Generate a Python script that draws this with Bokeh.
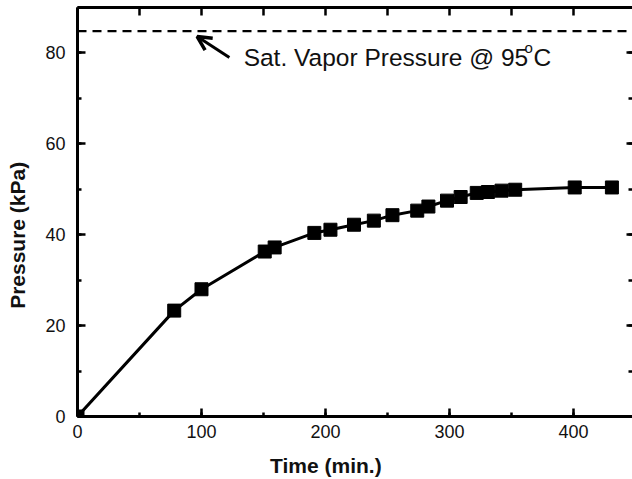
from bokeh.plotting import figure
from bokeh.models import (Range1d, LinearAxis, SingleIntervalTicker, Span, Arrow,
                          OpenHead, Label)
from bokeh.embed import file_html
from bokeh.resources import INLINE

# ---- data ----
time_min = [0, 78, 100, 151, 159, 191, 204, 223, 239, 254, 274, 283,
            298, 309, 322, 331, 342, 353, 401, 431]
pressure_kpa = [0, 23.3, 28.0, 36.3, 37.2, 40.4, 41.1, 42.2, 43.1, 44.3, 45.3, 46.2,
                47.5, 48.3, 49.2, 49.4, 49.7, 49.9, 50.4, 50.4]
sat_vapor_pressure = 84.8
annotation_text = "Sat. Vapor Pressure @ 95"
x_label = "Time (min.)"
y_label = "Pressure (kPa)"

FONT = "Liberation Sans"
INK = "#111111"
NBSP = "\u00a0"

p = figure(width=632, height=479, output_backend="svg", toolbar_location=None,
           x_range=Range1d(0, 447.6), y_range=Range1d(0, 90),
           min_border_left=77, min_border_right=0, min_border_top=7,
           min_border_bottom=63, x_axis_type=None, y_axis_type=None)
p.outline_line_color = None
p.xgrid.visible = False
p.ygrid.visible = False
p.background_fill_color = "white"
p.border_fill_color = "white"


def style_axis(ax, labels=True, major_in=8, minor_in=4, line=True):
    ax.axis_line_width = 3
    ax.axis_line_color = "black" if line else None
    ax.major_tick_in = major_in
    ax.major_tick_out = 0
    ax.minor_tick_in = minor_in
    ax.minor_tick_out = 0
    ax.major_tick_line_width = 2.5
    ax.minor_tick_line_width = 2.5
    ax.major_tick_line_color = "black"
    ax.minor_tick_line_color = "black"
    if labels:
        ax.major_label_text_font = FONT
        ax.major_label_text_font_size = "18px"
        ax.major_label_text_color = INK
    else:
        ax.major_label_text_color = None
        ax.major_label_text_alpha = 0
        ax.major_label_text_font_size = "1px"
        ax.major_label_standoff = 0


# bottom axis (title padded so it is centred on the 0-400 tick span)
xb = LinearAxis(ticker=SingleIntervalTicker(interval=100, num_minor_ticks=2))
style_axis(xb)
xb.major_label_standoff = 8
xb.axis_label = x_label + NBSP * 10
xb.axis_label_text_font = FONT
xb.axis_label_text_font_style = "bold"
xb.axis_label_text_font_size = "21px"
xb.axis_label_text_color = INK
xb.axis_label_standoff = 13
p.add_layout(xb, "below")

# left axis (title padded so it is centred on the 0-80 tick span)
yl = LinearAxis(ticker=SingleIntervalTicker(interval=20, num_minor_ticks=2))
style_axis(yl)
yl.major_label_standoff = 12
yl.axis_label = y_label + NBSP * 8
yl.axis_label_text_font = FONT
yl.axis_label_text_font_style = "bold"
yl.axis_label_text_font_size = "21px"
yl.axis_label_text_color = INK
yl.axis_label_standoff = 13
p.add_layout(yl, "left")

# top axis (ticks only)
xt = LinearAxis(ticker=SingleIntervalTicker(interval=50, num_minor_ticks=0))
style_axis(xt, labels=False, major_in=8)
p.add_layout(xt, "above")

# right axis (ticks only, axis line outside the picture)
yr = LinearAxis(ticker=SingleIntervalTicker(interval=20, num_minor_ticks=2))
style_axis(yr, labels=False, major_in=6, minor_in=4, line=False)
p.add_layout(yr, "right")

# saturated vapour pressure line
p.add_layout(Span(location=sat_vapor_pressure, dimension="width",
                  line_color="black", line_width=2.2, line_dash="9 6"))

# data
p.line(time_min, pressure_kpa, line_color="black", line_width=3)
p.scatter(time_min, pressure_kpa, marker="square", size=13,
          fill_color="black", line_color="black")

# annotation
p.add_layout(Arrow(end=OpenHead(size=14, line_width=3.5, line_color="black"),
                   x_start=122.5, y_start=79.0, x_end=96.5, y_end=83.6,
                   line_width=3, line_color="black"))
p.add_layout(Label(x=134, y=79.0, text=annotation_text, text_font=FONT,
                   text_font_size="24.5px", text_color=INK,
                   text_baseline="alphabetic"))
p.add_layout(Label(x=360.5, y=81.2, text="o", text_font=FONT,
                   text_font_size="15px", text_color=INK,
                   text_baseline="alphabetic"))
p.add_layout(Label(x=367.7, y=79.0, text="C", text_font=FONT,
                   text_font_size="24.5px", text_color=INK,
                   text_baseline="alphabetic"))

open("out.html", "w").write(file_html(p, INLINE))
